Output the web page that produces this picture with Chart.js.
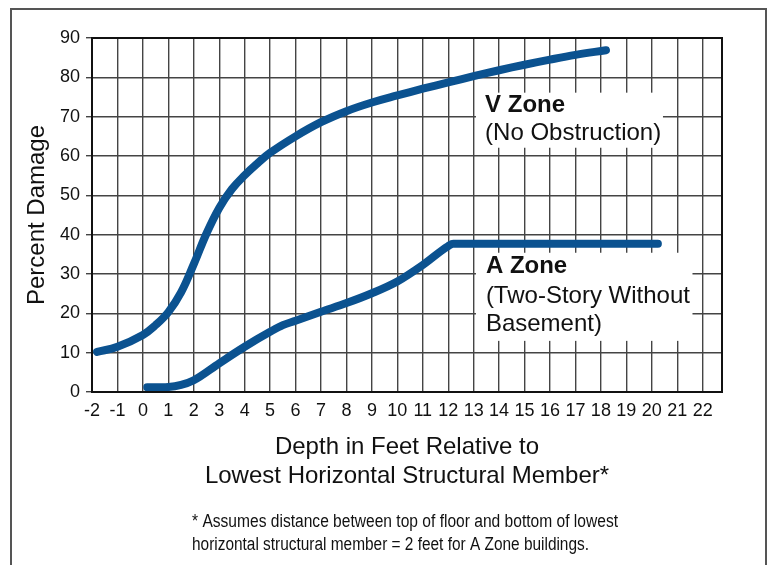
<!DOCTYPE html>
<html>
<head>
<meta charset="utf-8">
<script src="https://cdn.jsdelivr.net/npm/chart.js@4.4.1/dist/chart.umd.min.js"></script>
<style>
  html, body { margin: 0; padding: 0; background: #fff; }
  #wrap { width: 772px; height: 565px; position: relative; }
</style>
</head>
<body>
<div id="wrap"><canvas id="damageChart" width="772" height="565"></canvas></div>
<script>
// depth (ft) vs percent damage
var vZoneDepth = [-1.8, -1, 0, 0.5, 1, 1.5, 2, 2.5, 3, 3.5, 4, 4.5, 5, 6, 7, 8, 9, 10, 11, 12, 13, 14, 15, 16, 17, 18.2];
var vZoneDamage = [10.2, 11.5, 14.5, 17, 20.3, 25.3, 32.5, 40.3, 46.8, 51.6, 55.1, 58.1, 60.8, 65, 68.6, 71.4, 73.6, 75.4, 77.1, 78.7, 80.3, 81.8, 83.2, 84.5, 85.7, 86.9];

var aZoneDepth = [0.17, 1, 1.5, 2, 3, 4, 5, 5.5, 6, 7, 8, 9, 10, 11, 12, 12.2, 20.24];
var aZoneDamage = [1.2, 1.3, 1.8, 3, 7.3, 11.5, 15.3, 17, 18.1, 20.4, 22.6, 25.1, 28.1, 32.3, 37.1, 37.7, 37.7];

var xTicks = [-2, -1, 0, 1, 2, 3, 4, 5, 6, 7, 8, 9, 10, 11, 12, 13, 14, 15, 16, 17, 18, 19, 20, 21, 22];
var yTicks = [0, 10, 20, 30, 40, 50, 60, 70, 80, 90];

var lineBlue = "#0b5290";
var font = "'Liberation Sans', Arial, Helvetica, sans-serif";

function pts(xs, ys) {
    return xs.map(function (x, i) { return { x: x, y: ys[i] }; });
}

// text boxes on the plot (white background hides grid)
var zoneLabels = [
    { box: [13.09, 76.1, 20.44, 62.1], textX: 13.45,
      lines: [["V Zone", "bold", 71.2], ["(No Obstruction)", "normal", 64.1]] },
    { box: [13.09, 35.4, 21.6, 13.0], textX: 13.48,
      lines: [["A Zone", "bold", 30.3], ["(Two-Story Without", "normal", 22.6], ["Basement)", "normal", 15.6]] }
];

var extrasPlugin = {
    id: "extras",
    beforeDatasetsDraw: function (chart) {
        var ctx = chart.ctx, sx = chart.scales.x, sy = chart.scales.y;
        ctx.save();
        zoneLabels.forEach(function (lab) {
            var x1 = sx.getPixelForValue(lab.box[0]), y1 = sy.getPixelForValue(lab.box[1]);
            var x2 = sx.getPixelForValue(lab.box[2]), y2 = sy.getPixelForValue(lab.box[3]);
            ctx.fillStyle = "#fff";
            ctx.fillRect(x1, y1, x2 - x1, y2 - y1);
            ctx.fillStyle = "#111";
            ctx.textAlign = "left";
            ctx.textBaseline = "alphabetic";
            lab.lines.forEach(function (ln) {
                ctx.font = ln[1] + " 24px " + font;
                ctx.fillText(ln[0], sx.getPixelForValue(lab.textX), sy.getPixelForValue(ln[2]));
            });
        });
        ctx.restore();
    },
    afterDraw: function (chart) {
        var ctx = chart.ctx, a = chart.chartArea;
        ctx.save();
        ctx.strokeStyle = "#111";
        ctx.lineWidth = 2;
        ctx.strokeRect(a.left, a.top, a.right - a.left, a.bottom - a.top);
        // outer frame
        ctx.strokeStyle = "#555";
        ctx.strokeRect(11, 9, 755, 600);
        // footnote (condensed)
        ctx.fillStyle = "#111";
        ctx.font = "18px " + font;
        ctx.textAlign = "left";
        ctx.textBaseline = "alphabetic";
        ctx.fillText("* Assumes distance between top of floor and bottom of lowest", 192, 527, 426);
        ctx.fillText("horizontal structural member = 2 feet for A Zone buildings.", 192, 550, 397);
        ctx.restore();
    }
};

new Chart(document.getElementById("damageChart").getContext("2d"), {
    type: "line",
    data: {
        datasets: [{
            label: "V Zone",
            data: pts(vZoneDepth, vZoneDamage),
            borderColor: lineBlue,
            borderWidth: 8,
            borderCapStyle: "round",
            borderJoinStyle: "round",
            tension: 0.4,
            pointRadius: 0,
            fill: false
        }, {
            label: "A Zone",
            data: pts(aZoneDepth, aZoneDamage),
            borderColor: lineBlue,
            borderWidth: 8,
            borderCapStyle: "round",
            borderJoinStyle: "round",
            cubicInterpolationMode: "monotone",
            pointRadius: 0,
            fill: false
        }]
    },
    options: {
        responsive: false,
        animation: false,
        layout: { padding: { left: 14, top: 38, right: 50, bottom: 74 } },
        plugins: { legend: { display: false }, tooltip: { enabled: false } },
        scales: {
            x: {
                type: "linear",
                min: -2,
                max: 22.76,
                afterBuildTicks: function (s) { s.ticks = xTicks.map(function (v) { return { value: v }; }); },
                afterFit: function (s) { s.height = 99; },
                grid: { color: "#444", lineWidth: 1.4, drawTicks: false },
                border: { display: false },
                ticks: { color: "#111", font: { family: font, size: 18 }, padding: 8, maxRotation: 0, autoSkip: false },
                title: {
                    display: true,
                    text: ["Depth in Feet Relative to", "Lowest Horizontal Structural Member*"],
                    color: "#111",
                    font: { family: font, size: 24, lineHeight: 1.2 },
                    padding: 0
                }
            },
            y: {
                min: 0,
                max: 90,
                afterBuildTicks: function (s) { s.ticks = yTicks.map(function (v) { return { value: v }; }); },
                afterFit: function (s) { s.width = 78; },
                grid: { color: "#444", lineWidth: 1.4, tickLength: 6 },
                border: { display: false },
                ticks: { color: "#111", font: { family: font, size: 18 }, padding: 6 },
                title: {
                    display: true,
                    text: "Percent Damage",
                    color: "#111",
                    font: { family: font, size: 24, lineHeight: 1.2 },
                    padding: { top: 9, bottom: 0 }
                }
            }
        }
    },
    plugins: [extrasPlugin]
});
</script>
</body>
</html>
